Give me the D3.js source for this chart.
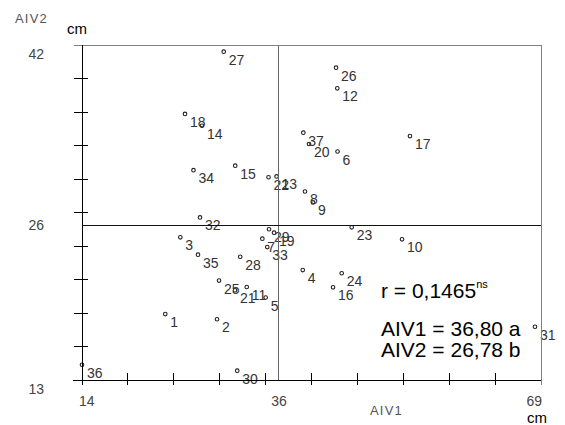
<!DOCTYPE html>
<html><head><meta charset="utf-8">
<script src="https://cdn.jsdelivr.net/npm/d3@7/dist/d3.min.js"></script>
<style>body{margin:0;background:#fff} svg{display:block;font-family:"Liberation Sans",Arial,sans-serif}</style>
</head><body><svg id="c" width="565" height="425"></svg>
<script>
// ---- data ----
const ids  = [1,2,3,4,5,6,7,8,9,10,11,12,13,14,15,16,17,18,19,20,21,22,23,24,25,26,27,28,29,30,31,32,33,34,35,36,37];
const aiv1 = [23.98,30.18,25.78,40.45,36.01,44.62,35.61,40.72,41.68,52.35,33.74,44.59,37.31,28.38,32.36,44.08,53.30,26.34,37.01,41.20,32.33,36.35,46.32,45.12,30.42,44.44,30.98,32.96,36.41,32.60,68.28,28.14,36.20,27.36,27.90,14.00,40.52];
const aiv2 = [18.71,18.26,25.35,22.52,20.14,32.78,25.23,29.32,28.37,25.18,21.05,38.25,30.62,35.01,31.55,21.02,34.12,36.03,25.75,33.43,20.77,30.55,26.22,22.24,21.61,40.04,41.42,23.67,26.05,13.81,17.61,27.07,24.51,31.16,23.85,14.32,34.41];
const xTicks = [14,19.5,25,30.5,36,41.5,47,52.5,58,63.5,69];
const yTicks = [13,15.9,18.8,21.7,24.6,27.5,30.4,33.3,36.2,39.1,42];
const xLabelValues = [14,37.6,69];
const xLabelTexts  = ["14","36","69"];
const yLabelValues = [42,26.4,13];
const yLabelTexts  = ["42","26","13"];
const refX = 37.6, refY = 26.4;
const rText = "r = 0,1465", rSup = "ns";
const statLines = ["AIV1 = 36,80 a","AIV2 = 26,78 b"];

// ---- drawing ----
const svg = d3.select("#c");
svg.append("rect").attr("width",565).attr("height",425).attr("fill","#fff");
const x = d3.scaleLinear().domain([14,69]).range([82,541]);
const y = d3.scaleLinear().domain([13,42]).range([380,45]);
const pts = ids.map((id,i)=>({id, a:aiv1[i], b:aiv2[i]}));

const g = svg.append("g");
// points
g.selectAll("circle.p").data(pts).join("circle")
  .attr("cx",d=>x(d.a)).attr("cy",d=>y(d.b)).attr("r",1.8)
  .attr("fill","#fff").attr("stroke","#222").attr("stroke-width",1.1);
g.selectAll("text.l").data(pts).join("text")
  .attr("x",d=>x(d.a)+5).attr("y",d=>y(d.b)+13)
  .attr("font-size",14).attr("fill","#333").text(d=>d.id);

// reference lines
g.append("line").attr("x1",x(refX)).attr("x2",x(refX)).attr("y1",y(42)).attr("y2",y(13))
  .attr("stroke","#666").attr("shape-rendering","crispEdges");
g.append("line").attr("x1",x(14)).attr("x2",x(69)).attr("y1",y(refY)).attr("y2",y(refY))
  .attr("stroke","#111").attr("shape-rendering","crispEdges");

// frame
const ax = svg.append("g").attr("shape-rendering","crispEdges");
ax.append("line").attr("x1",x(14)-8).attr("x2",x(69)).attr("y1",y(42)).attr("y2",y(42)).attr("stroke","#808080");
ax.append("line").attr("x1",x(69)).attr("x2",x(69)).attr("y1",y(42)).attr("y2",y(13)+5).attr("stroke","#808080");
ax.append("line").attr("x1",x(14)).attr("x2",x(14)).attr("y1",y(42)).attr("y2",y(13)+2).attr("stroke","#000");
ax.append("line").attr("x1",x(14)-9).attr("x2",x(69)).attr("y1",y(13)).attr("y2",y(13)).attr("stroke","#000");
ax.selectAll("line.yt").data(yTicks.slice(1,-1)).join("line")
  .attr("x1",x(14)-8).attr("x2",x(14)+6).attr("y1",d=>y(d)).attr("y2",d=>y(d)).attr("stroke","#000");
ax.selectAll("line.xt").data(xTicks.slice(0,-1)).join("line")
  .attr("x1",d=>x(d)).attr("x2",d=>x(d)).attr("y1",y(13)-7).attr("y2",y(13)+5).attr("stroke","#000");

// tick labels
const tl = svg.append("g").attr("font-size",14).attr("fill","#444");
tl.selectAll("text.yl").data(yLabelValues).join("text")
  .attr("x",44).attr("y",(d,i)=>y(d)+5+(i===1?0:9)).attr("text-anchor","end")
  .text((d,i)=>yLabelTexts[i]);
tl.selectAll("text.xl").data(xLabelValues).join("text")
  .attr("x",(d,i)=> i===0 ? x(d)-3 : i===1 ? x(d) : x(d)+1)
  .attr("y",406)
  .attr("text-anchor",(d,i)=> i===0?"start": i===1?"middle":"end")
  .text((d,i)=>xLabelTexts[i]);

// axis titles
svg.append("text").attr("x",15).attr("y",23).attr("font-size",13).attr("letter-spacing",1.2)
  .attr("fill","#555").text("AIV2");
svg.append("text").attr("x",67).attr("y",34).attr("font-size",15).attr("fill","#000").text("cm");
svg.append("text").attr("x",370).attr("y",415).attr("font-size",13).attr("letter-spacing",1.2)
  .attr("fill","#555").text("AIV1");
svg.append("text").attr("x",527).attr("y",423).attr("font-size",15).attr("fill","#000").text("cm");

// stats
const st = svg.append("g").attr("fill","#000").attr("font-size",21);
const rt = st.append("text").attr("x",381).attr("y",298).text(rText);
rt.append("tspan").attr("font-size",11).attr("dy",-10).text(rSup);
st.selectAll("text.s").data(statLines).join("text")
  .attr("x",381).attr("y",(d,i)=>336+i*20.5).text(d=>d);
</script></body></html>
